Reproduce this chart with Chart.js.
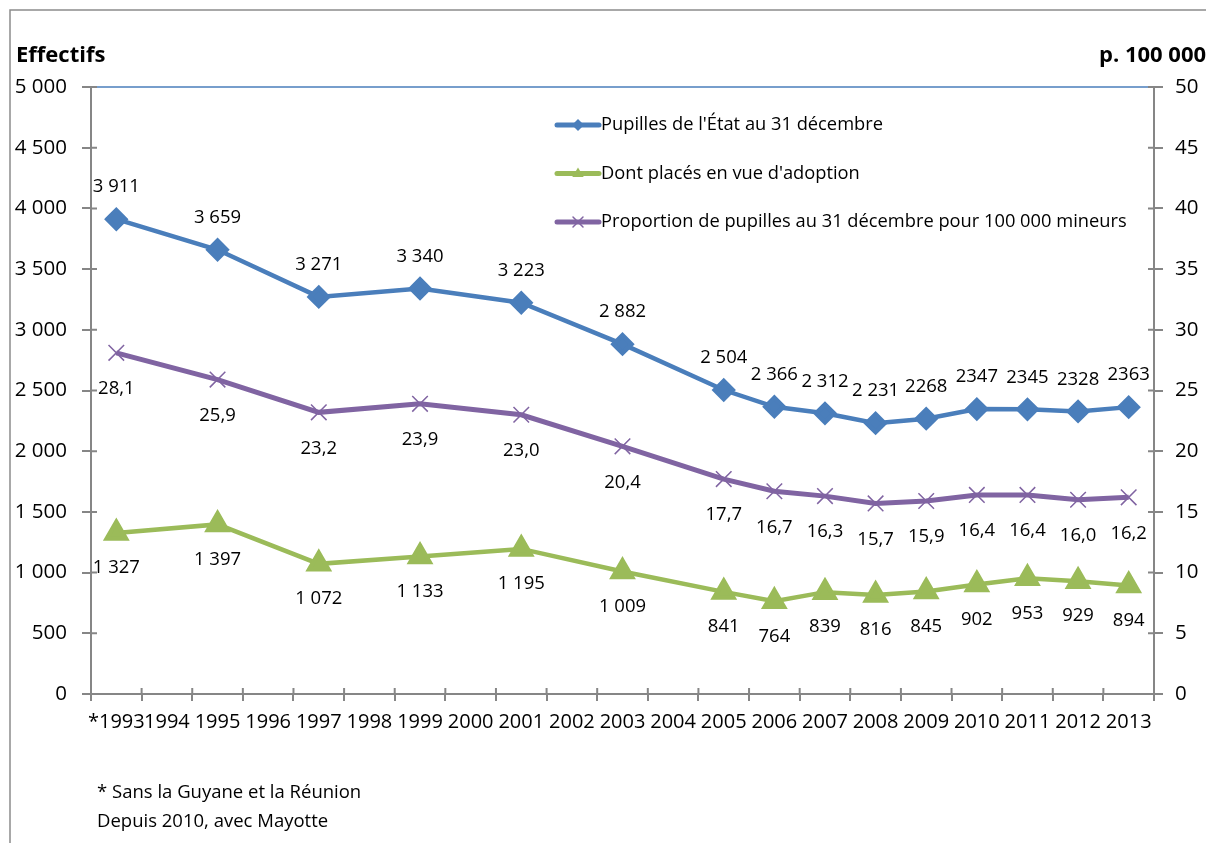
<!DOCTYPE html>
<html>
<head>
<meta charset="utf-8">
<script src="https://cdn.jsdelivr.net/npm/chart.js@4.4.0/dist/chart.umd.min.js"></script>
<style>
  html, body { margin: 0; padding: 0; background: #fff; overflow: hidden; }
  #wrap { position: relative; width: 1206px; height: 843px; overflow: hidden; }
  .note { position: absolute; left: 97px; font: 18.5px "Open Sans", sans-serif; color: #000; white-space: nowrap; }
</style>
</head>
<body>
<div id="wrap">
  <canvas id="myChart" width="1206" height="843"></canvas>
  <div class="note" style="top:778px">* Sans la Guyane et la Réunion</div>
  <div class="note" style="top:807px">Depuis 2010, avec Mayotte</div>
</div>
<script>
// categories and values
const years = ['*1993', '1994', '1995', '1996', '1997', '1998', '1999', '2000', '2001', '2002', '2003',
    '2004', '2005', '2006', '2007', '2008', '2009', '2010', '2011', '2012', '2013'];
const pupilles = [3911, null, 3659, null, 3271, null, 3340, null, 3223, null, 2882, null,
    2504, 2366, 2312, 2231, 2268, 2347, 2345, 2328, 2363];
const pupillesLabels = ['3 911', '', '3 659', '', '3 271', '', '3 340', '', '3 223', '', '2 882', '',
    '2 504', '2 366', '2 312', '2 231', '2268', '2347', '2345', '2328', '2363'];
const adoption = [1327, null, 1397, null, 1072, null, 1133, null, 1195, null, 1009, null,
    841, 764, 839, 816, 845, 902, 953, 929, 894];
const proportion = [28.1, null, 25.9, null, 23.2, null, 23.9, null, 23.0, null, 20.4, null,
    17.7, 16.7, 16.3, 15.7, 15.9, 16.4, 16.4, 16.0, 16.2];
const seriesNames = ["Pupilles de l'État au 31 décembre", "Dont placés en vue d'adoption",
    'Proportion de pupilles au 31 décembre pour 100 000 mineurs'];

const FONT = '"Open Sans", sans-serif';
const AXIS = '#868686';
const BLUE = '#4A7EBB', GREEN = '#9BBB59', PURPLE = '#8064A2';

function spaced(v) {
    return String(v).replace(/\B(?=(\d{3})+(?!\d))/g, ' ');
}
function decimal(v) {
    return v.toFixed(1).replace('.', ',');
}

function marker(ctx, style, x, y, r, color, lw) {
    ctx.save();
    ctx.fillStyle = color;
    ctx.strokeStyle = color;
    ctx.lineWidth = lw;
    ctx.beginPath();
    if (style === 'rectRot') {
        ctx.moveTo(x, y - r); ctx.lineTo(x + r, y); ctx.lineTo(x, y + r); ctx.lineTo(x - r, y);
        ctx.closePath(); ctx.fill();
    } else if (style === 'triangle') {
        ctx.moveTo(x, y - r); ctx.lineTo(x + r * 0.95, y + r * 0.6); ctx.lineTo(x - r * 0.95, y + r * 0.6);
        ctx.closePath(); ctx.fill();
    } else {
        ctx.moveTo(x - r, y - r); ctx.lineTo(x + r, y + r);
        ctx.moveTo(x + r, y - r); ctx.lineTo(x - r, y + r);
        ctx.stroke();
    }
    ctx.restore();
}

const decor = {
    id: 'decor',
    beforeDraw(chart) {
        const ctx = chart.ctx;
        ctx.save();
        ctx.fillStyle = '#fff';
        ctx.fillRect(0, 0, chart.width, chart.height);
        ctx.strokeStyle = '#8c8c8c';
        ctx.lineWidth = 1.5;
        ctx.beginPath();
        ctx.moveTo(10, chart.height); ctx.lineTo(10, 10); ctx.lineTo(chart.width, 10);
        ctx.stroke();
        ctx.restore();
    },
    afterDatasetsDraw(chart) {
        const ctx = chart.ctx;
        const a = chart.chartArea;
        const sy = chart.scales.y, sy2 = chart.scales.y2;
        ctx.save();

        // blue top border of the plot
        ctx.strokeStyle = BLUE;
        ctx.lineWidth = 1.5;
        ctx.beginPath();
        ctx.moveTo(a.left, a.top); ctx.lineTo(a.right, a.top);
        ctx.stroke();

        // inner halves of the crossing tick marks
        ctx.strokeStyle = AXIS;
        ctx.lineWidth = 2;
        ctx.beginPath();
        sy.ticks.forEach(t => {
            const y = sy.getPixelForValue(t.value);
            ctx.moveTo(a.left, y); ctx.lineTo(a.left + 6, y);
        });
        sy2.ticks.forEach(t => {
            const y = sy2.getPixelForValue(t.value);
            ctx.moveTo(a.right, y); ctx.lineTo(a.right - 6, y);
        });
        const step = (a.right - a.left) / years.length;
        for (let i = 0; i <= years.length; i++) {
            const x = a.left + i * step;
            ctx.moveTo(x, a.bottom); ctx.lineTo(x, a.bottom - 6);
        }
        ctx.stroke();

        // data labels
        ctx.fillStyle = '#000';
        ctx.font = '18.5px ' + FONT;
        ctx.textAlign = 'center';
        ctx.textBaseline = 'middle';
        const labelSets = [
            { ds: 0, dy: -32, text: i => pupillesLabels[i] },
            { ds: 1, dy: 35, text: i => spaced(adoption[i]) },
            { ds: 2, dy: 36, text: i => decimal(proportion[i]) }
        ];
        labelSets.forEach(s => {
            const meta = chart.getDatasetMeta(s.ds);
            const data = chart.data.datasets[s.ds].data;
            meta.data.forEach((pt, i) => {
                if (data[i] === null) return;
                ctx.fillText(s.text(i), pt.x, pt.y + s.dy);
            });
        });

        // legend inside the plot
        ctx.textAlign = 'left';
        ctx.font = '18.3px ' + FONT;
        chart.data.datasets.forEach((ds, i) => {
            const y = 125 + i * 48.5;
            ctx.strokeStyle = ds.borderColor;
            ctx.lineWidth = 5;
            ctx.lineCap = 'round';
            ctx.beginPath();
            ctx.moveTo(557, y); ctx.lineTo(599, y);
            ctx.stroke();
            marker(ctx, ds.pointStyle, 578, y, ds.pointStyle === 'crossRot' ? 5 : 6, ds.borderColor, 1.5);
            ctx.fillStyle = '#000';
            ctx.fillText(seriesNames[i], 601, y);
        });

        // axis titles
        ctx.font = 'bold 22px ' + FONT;
        ctx.fillText('Effectifs', 16, 56);
        ctx.fillText('p. 100 000', 1099, 56);
        ctx.restore();
    }
};

const ctx = document.getElementById('myChart');
const myChart = new Chart(ctx, {
    type: 'line',
    data: {
        labels: years,
        datasets: [{
            label: seriesNames[0],
            data: pupilles,
            yAxisID: 'y',
            borderColor: BLUE,
            backgroundColor: BLUE,
            borderWidth: 4.5,
            pointStyle: 'rectRot',
            pointRadius: 9,
            pointBackgroundColor: BLUE,
            pointBorderColor: BLUE,
            spanGaps: true,
        }, {
            label: seriesNames[1],
            data: adoption,
            yAxisID: 'y',
            borderColor: GREEN,
            backgroundColor: GREEN,
            borderWidth: 4.5,
            pointStyle: 'triangle',
            pointRadius: 11,
            pointBackgroundColor: GREEN,
            pointBorderColor: GREEN,
            spanGaps: true,
        }, {
            label: seriesNames[2],
            data: proportion,
            yAxisID: 'y2',
            borderColor: PURPLE,
            backgroundColor: PURPLE,
            borderWidth: 5,
            pointStyle: 'crossRot',
            pointRadius: 11,
            pointBorderWidth: 1.5,
            pointBorderColor: PURPLE,
            spanGaps: true,
        }],
    },
    options: {
        responsive: false,
        animation: false,
        layout: { padding: { top: 87, left: 0, right: 0, bottom: 0 } },
        plugins: {
            legend: { display: false },
            tooltip: { enabled: false },
        },
        scales: {
            x: {
                offset: true,
                grid: { offset: true, drawOnChartArea: false, tickLength: 7, color: AXIS, lineWidth: 2 },
                border: { color: AXIS, width: 2 },
                ticks: { autoSkip: false, maxRotation: 0, minRotation: 0, color: '#000', padding: 9, font: { family: FONT, size: 20 } },
                afterFit: s => { s.height = 149; },
            },
            y: {
                position: 'left',
                min: 0,
                max: 5000,
                grid: { drawOnChartArea: false, tickLength: 9, color: AXIS, lineWidth: 2 },
                border: { color: AXIS, width: 2 },
                ticks: { stepSize: 500, color: '#000', padding: 15, font: { family: FONT, size: 20.5 }, callback: v => spaced(v) },
                afterFit: s => { s.width = 91; },
            },
            y2: {
                position: 'right',
                min: 0,
                max: 50,
                grid: { drawOnChartArea: false, tickLength: 9, color: AXIS, lineWidth: 2 },
                border: { color: AXIS, width: 2 },
                ticks: { stepSize: 5, color: '#000', padding: 12, font: { family: FONT, size: 20.5 } },
                afterFit: s => { s.width = 52; },
            },
        },
    },
    plugins: [decor],
});
</script>
</body>
</html>
